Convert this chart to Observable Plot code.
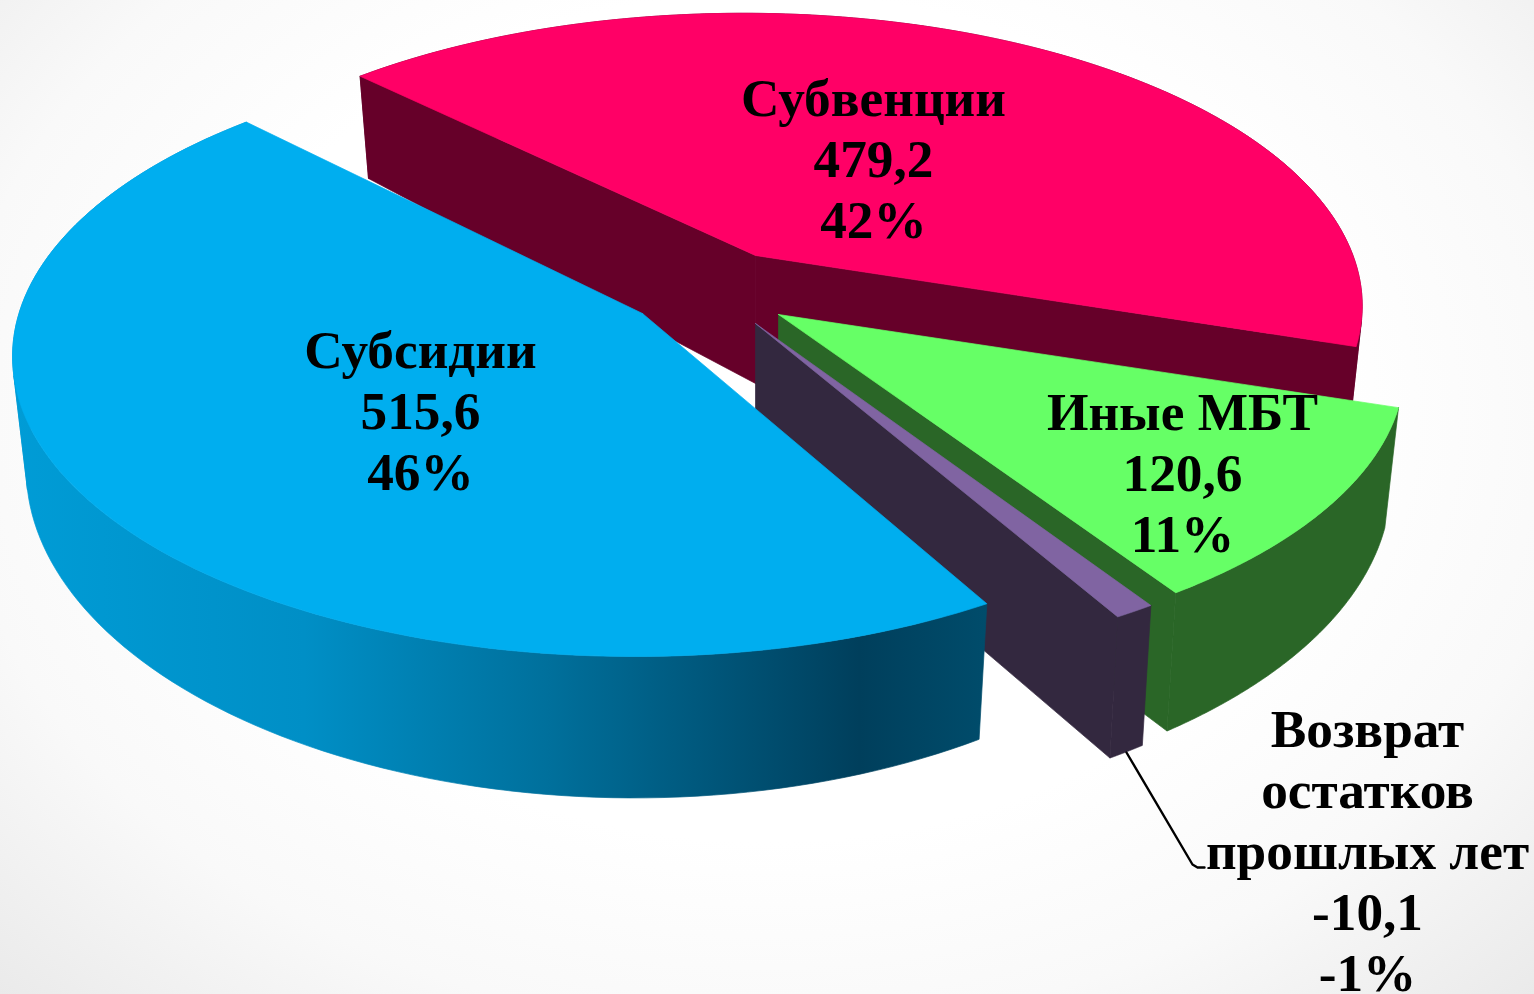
<!DOCTYPE html>
<html><head><meta charset="utf-8">
<script src="https://cdn.jsdelivr.net/npm/d3@7"></script>
<script src="https://cdn.jsdelivr.net/npm/@observablehq/plot@0.6"></script>
<style>
html,body{margin:0;padding:0;width:1534px;height:994px;overflow:hidden;
background:radial-gradient(ellipse farthest-corner at 50% 42%,#fff 52%,#f9f9f9 75%,#eaeaea 100%);}
</style></head><body><div id="chart"></div>
<script>
const categories = ["Субсидии","Субвенции","Иные МБТ","Возврат\nостатков\nпрошлых лет"];
const values = [515.6,479.2,120.6,-10.1];
const percents = [46,42,11,-1];

// styling and 3-D layout, kept apart from the data
const topColors = ["#00AEEF","#FF0066","#66FF66","#8064A2"];
const wallColors = ["url(#blueWall)","#660029","#2A6627","#33283F"];
const apex = [[642,313],[755,255],[778,314],[755,323]];
const centerShift = [[-8,-2],[-12,-2],[-2,0],[6,0]];
const radiusScale = [0.995,0.985,1,1];
const perspective = [0.15,0.179,0.179,0.179];
const rotate = [-0.8,-1,-1,0];
const sweepAdjust = [0.64,0,0,0];
const depth = [109,117,112,113];
const apexDepth = [130,128,125,132];
const labelPos = [[420,409],[873,157],[1182,471],[1367,849]];
const startAngle = 60.9, R = 618, frontRadius = 345, k = 0.179, shrink = 0.978, steps = 120;

const total = d3.sum(values, Math.abs);
const slices = [];
let a0 = startAngle;
values.forEach((v,i) => {
  const sweep = Math.abs(v)/total*360;
  slices.push({i, a0:a0+rotate[i], a1:a0+sweep+rotate[i]+sweepAdjust[i]});
  a0 += sweep;
});
const base = (i,deg) => {
  const t = deg*Math.PI/180, c = Math.cos(t), s = Math.sin(t), p = perspective[i], w = 1/(1-p*s);
  return {s, dx:radiusScale[i]*R*c*w, dy:frontRadius*(1-p)*s*w,
          ox:apex[i][0]+centerShift[i][0], oy:apex[i][1]+centerShift[i][1]};
};
const top3 = (i,deg) => { const b = base(i,deg); return [b.ox+b.dx, b.oy+b.dy]; };
const bot3 = (i,deg) => { const b = base(i,deg);
  return [b.ox+shrink*b.dx, b.oy+shrink*b.dy+depth[i]/(1-1.5*k*b.s)]; };
const angles = sl => d3.range(steps+1).map(j => sl.a0+(sl.a1-sl.a0)*j/steps);
const topFace = sl => [apex[sl.i], ...angles(sl).map(a=>top3(sl.i,a))];
// outer wall: one polygon per run between silhouette folds
const outerWall = sl => {
  const as = angles(sl), runs = [[as[0]]];
  let last = 0;
  for (let j=0;j<as.length-1;j++) {
    const p = top3(sl.i,as[j]), q = top3(sl.i,as[j+1]), b = bot3(sl.i,as[j]);
    const sign = Math.sign((q[0]-p[0])*(b[1]-p[1])-(q[1]-p[1])*(b[0]-p[0]));
    if (last && sign !== last) runs.push([as[j]]);
    runs[runs.length-1].push(as[j+1]);
    last = sign;
  }
  return runs.flatMap((run,r) => [
    ...run.map(a=>top3(sl.i,a)), ...run.slice().reverse().map(a=>bot3(sl.i,a)), top3(sl.i,run[0])
  ].map(p=>({x:p[0],y:p[1],q:r})));
};
const apexBottom = sl => [apex[sl.i][0], apex[sl.i][1]+apexDepth[sl.i]];
const startWall = sl => [apex[sl.i], top3(sl.i,sl.a0), bot3(sl.i,sl.a0), apexBottom(sl), apex[sl.i]];
const endWall = sl => [apex[sl.i], top3(sl.i,sl.a1), bot3(sl.i,sl.a1), apexBottom(sl), apex[sl.i]];

const poly = (pts,fill) => Plot.line(pts,{x:d=>d[0],y:d=>d[1],fill,stroke:fill,strokeWidth:0.7,curve:"linear"});
const quads = (rows,fill) => Plot.line(rows,{x:"x",y:"y",z:"q",fill,stroke:fill,strokeWidth:0.7,curve:"linear"});
const [blue,red,green,purple] = slices;
const closed = pts => [...pts, pts[0]];

const fmt = v => v.toFixed(1).replace(".",",");
const labels = categories.map((c,i)=>({x:labelPos[i][0],y:labelPos[i][1],
  text:`${c}\n${fmt(values[i])}\n${percents[i]}%`}));

const leader = [[1126,752],[1192,864],[1197,867],[1204,867]];

const marks = [
  quads(outerWall(red),wallColors[1]),
  poly(startWall(red),wallColors[1]),
  poly(endWall(red),wallColors[1]),
  poly(closed(topFace(red)),topColors[1]),
  quads(outerWall(green),wallColors[2]),
  poly(endWall(green),wallColors[2]),
  poly(closed(topFace(green)),topColors[2]),
  quads(outerWall(purple),wallColors[3]),
  poly(endWall(purple),wallColors[3]),
  poly(closed(topFace(purple)),topColors[3]),
  quads(outerWall(blue),wallColors[0]),
  poly(closed(topFace(blue)),topColors[0]),
  Plot.line(leader,{x:d=>d[0],y:d=>d[1],stroke:"#000",strokeWidth:2.4,curve:"linear"}),
  Plot.text(labels,{x:"x",y:"y",text:"text",textAnchor:"middle",lineAnchor:"middle",
    lineHeight:1.145,fontFamily:"Liberation Serif",fontWeight:"bold",fontSize:53.3,fill:"#000",stroke:"none"})
];

const svg = Plot.plot({
  width:1534,height:994,margin:0,
  x:{domain:[0,1534],range:[0,1534],axis:null},
  y:{domain:[0,994],range:[0,994],axis:null},
  style:{background:"transparent"},
  marks
});
const defs = d3.create("svg:defs");
const gr = defs.append("linearGradient").attr("id","blueWall").attr("gradientUnits","userSpaceOnUse")
  .attr("x1",12).attr("x2",985).attr("y1",0).attr("y2",0);
[[0,"#009CD6"],[0.3,"#008FC6"],[0.55,"#00709C"],[0.87,"#003F5C"],[1,"#004C6B"]]
  .forEach(([o,c])=>gr.append("stop").attr("offset",o).attr("stop-color",c));
svg.insertBefore(defs.node(),svg.firstChild);
document.getElementById("chart").appendChild(svg);
</script></body></html>
